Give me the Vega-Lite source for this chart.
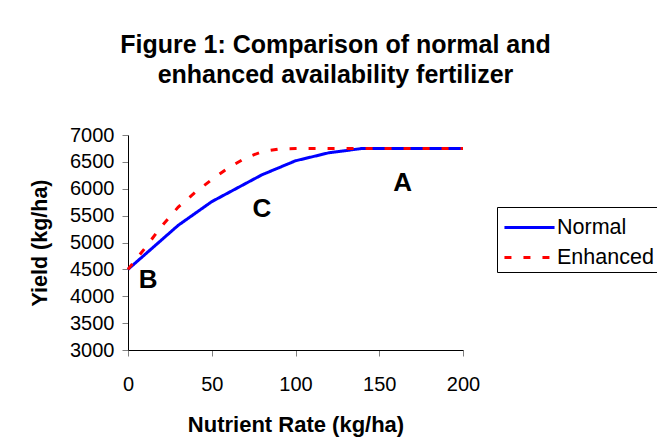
{
  "$schema": "https://vega.github.io/schema/vega-lite/v6.json",
  "width": 335,
  "height": 215,
  "autosize": {"type": "none"},
  "padding": {"left": 128, "top": 135, "right": 194, "bottom": 96},
  "background": "white",
  "title": {
    "text": ["Figure 1: Comparison of normal and", "enhanced availability fertilizer"],
    "font": "Liberation Sans",
    "fontSize": 25,
    "fontWeight": "bold",
    "color": "black",
    "anchor": "middle",
    "dx": 40,
    "offset": 37,
    "lineHeight": 30
  },
  "config": {
    "view": {"stroke": null},
    "font": "Liberation Sans",
    "axis": {
      "grid": false,
      "domainColor": "black",
      "tickColor": "#808080",
      "tickSize": 6,
      "labelFont": "Liberation Sans",
      "labelFontSize": 20,
      "labelColor": "black",
      "labelOverlap": false,
      "labelFlush": false,
      "format": "d",
      "titleFont": "Liberation Sans",
      "titleFontWeight": "bold",
      "titleColor": "black"
    }
  },
  "datasets": {
    "curves": [
      {"rate": 0, "yield": 4500, "series": "Normal"},
      {"rate": 30, "yield": 5320, "series": "Normal"},
      {"rate": 50, "yield": 5760, "series": "Normal"},
      {"rate": 80, "yield": 6260, "series": "Normal"},
      {"rate": 100, "yield": 6520, "series": "Normal"},
      {"rate": 120, "yield": 6670, "series": "Normal"},
      {"rate": 140, "yield": 6750, "series": "Normal"},
      {"rate": 160, "yield": 6750, "series": "Normal"},
      {"rate": 180, "yield": 6750, "series": "Normal"},
      {"rate": 200, "yield": 6750, "series": "Normal"},
      {"rate": 0, "yield": 4500, "series": "Enhanced"},
      {"rate": 10, "yield": 4890, "series": "Enhanced"},
      {"rate": 20, "yield": 5300, "series": "Enhanced"},
      {"rate": 30, "yield": 5660, "series": "Enhanced"},
      {"rate": 40, "yield": 5930, "series": "Enhanced"},
      {"rate": 50, "yield": 6170, "series": "Enhanced"},
      {"rate": 60, "yield": 6390, "series": "Enhanced"},
      {"rate": 70, "yield": 6570, "series": "Enhanced"},
      {"rate": 80, "yield": 6690, "series": "Enhanced"},
      {"rate": 90, "yield": 6740, "series": "Enhanced"},
      {"rate": 100, "yield": 6750, "series": "Enhanced"},
      {"rate": 120, "yield": 6750, "series": "Enhanced"},
      {"rate": 140, "yield": 6750, "series": "Enhanced"},
      {"rate": 160, "yield": 6750, "series": "Enhanced"},
      {"rate": 180, "yield": 6750, "series": "Enhanced"},
      {"rate": 200, "yield": 6750, "series": "Enhanced"}
    ],
    "labels": [
      {"rate": 164, "yield": 6110, "label": "A"},
      {"rate": 12, "yield": 4300, "label": "B"},
      {"rate": 80, "yield": 5630, "label": "C"}
    ]
  },
  "encoding": {
    "x": {
      "field": "rate", "type": "quantitative",
      "scale": {"domain": [0, 200], "nice": false},
      "axis": {"values": [0, 50, 100, 150, 200], "title": "Nutrient Rate (kg/ha)", "titleFontSize": 22, "labelPadding": 18, "titlePadding": 20}
    },
    "y": {
      "field": "yield", "type": "quantitative",
      "scale": {"domain": [3000, 7000], "nice": false, "zero": false},
      "axis": {"values": [3000, 3500, 4000, 4500, 5000, 5500, 6000, 6500, 7000], "title": "Yield (kg/ha)", "titleFontSize": 21.5, "labelPadding": 8, "titlePadding": 18}
    }
  },
  "layer": [
    {
      "data": {"name": "curves"},
      "mark": {"type": "line", "strokeWidth": 3},
      "encoding": {
        "color": {
          "field": "series", "type": "nominal",
          "scale": {"domain": ["Normal", "Enhanced"], "range": ["#0000FF", "#FF0000"]},
          "legend": {
            "title": null,
            "orient": "none",
            "legendX": 369,
            "legendY": 72,
            "strokeColor": "black",
            "fillColor": "white",
            "padding": 4,
            "symbolType": "M-1.67,0L1.67,0",
            "symbolSize": 900,
            "symbolStrokeWidth": 3,
            "symbolOffset": 12,
            "labelFont": "Liberation Sans",
            "labelFontSize": 21.5,
            "labelColor": "black",
            "rowPadding": 3,
            "labelOffset": 11
          }
        },
        "strokeDash": {
          "field": "series", "type": "nominal",
          "scale": {"domain": ["Normal", "Enhanced"], "range": [[1, 0], [7, 12]]},
          "legend": null
        }
      }
    },
    {
      "data": {"name": "labels"},
      "mark": {"type": "text", "font": "Liberation Sans", "fontSize": 26, "fontWeight": "bold", "color": "black"},
      "encoding": {
        "text": {"field": "label"}
      }
    }
  ]
}
